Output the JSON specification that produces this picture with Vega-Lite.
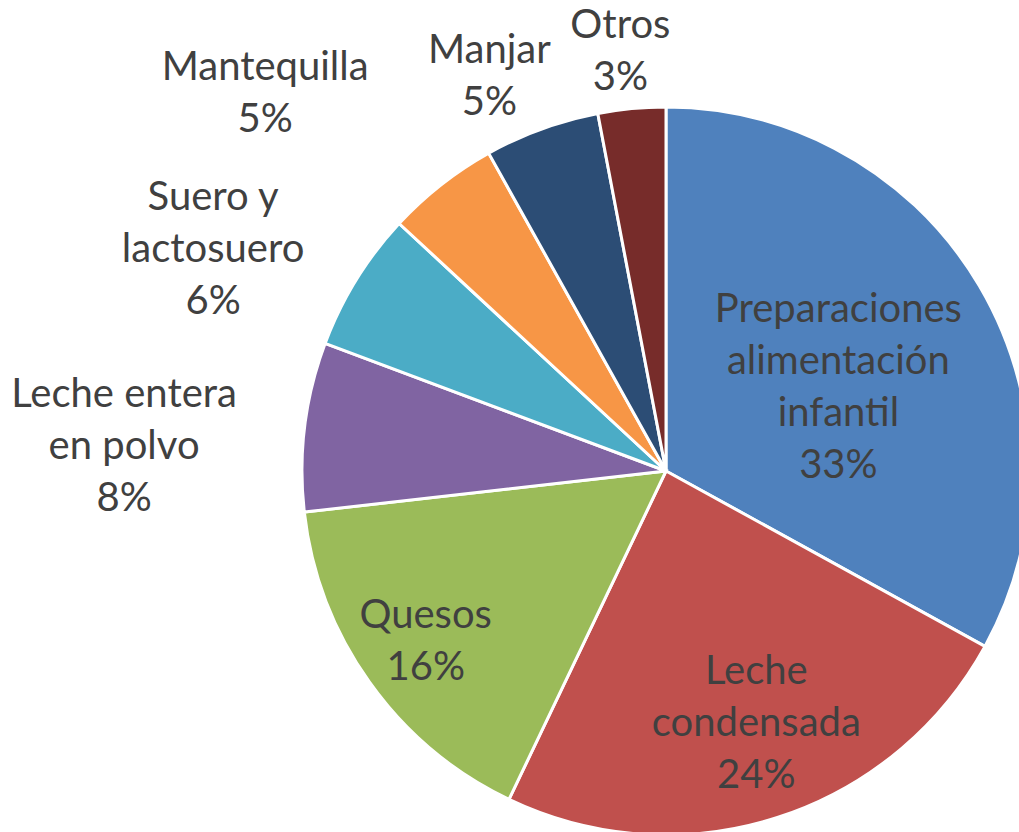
{
  "$schema": "https://vega.github.io/schema/vega-lite/v6.json",
  "width": 1019,
  "height": 832,
  "autosize": {"type": "none"},
  "padding": 0,
  "background": "white",
  "config": {"view": {"stroke": null}},
  "data": {
    "values": [
      {"cat": "Preparaciones alimentación infantil", "label": "Preparaciones\nalimentación\ninfantil\n33%", "value": 33.0, "orden": 1},
      {"cat": "Leche condensada", "label": "Leche\ncondensada\n24%", "value": 24.1, "orden": 2},
      {"cat": "Quesos", "label": "Quesos\n16%", "value": 16.1, "orden": 3},
      {"cat": "Leche entera en polvo", "label": "Leche entera\nen polvo\n8%", "value": 7.5, "orden": 4},
      {"cat": "Suero y lactosuero", "label": "Suero y\nlactosuero\n6%", "value": 6.2, "orden": 5},
      {"cat": "Mantequilla", "label": "Mantequilla\n5%", "value": 5.0, "orden": 6},
      {"cat": "Manjar", "label": "Manjar\n5%", "value": 5.1, "orden": 7},
      {"cat": "Otros", "label": "Otros\n3%", "value": 3.0, "orden": 8}
    ]
  },
  "encoding": {
    "theta": {"field": "value", "type": "quantitative", "stack": true, "scale": {"domain": [0, 100]}},
    "order": {"field": "orden", "type": "quantitative", "sort": "ascending"}
  },
  "layer": [
    {
      "mark": {"type": "arc", "x": 666, "y": 471, "radius": 364, "stroke": "white", "strokeWidth": 3},
      "encoding": {
        "color": {
          "field": "cat", "type": "nominal", "legend": null,
          "scale": {
            "domain": ["Preparaciones alimentación infantil", "Leche condensada", "Quesos", "Leche entera en polvo", "Suero y lactosuero", "Mantequilla", "Manjar", "Otros"],
            "range": ["#4F81BD", "#C0504D", "#9BBB59", "#8064A2", "#4BACC6", "#F79646", "#2C4D75", "#772C2A"]
          }
        }
      }
    },
    {
      "mark": {"type": "text", "x": 666, "y": 471, "radius": 191, "dx": 8, "dy": -64, "font": "Lato", "fontSize": 40, "lineHeight": 52, "lineBreak": "\n", "color": "#404040", "align": "center", "baseline": "middle"},
      "encoding": {"text": {"condition": {"test": "datum.orden === 1", "field": "label"}, "value": ""}}
    },
    {
      "mark": {"type": "text", "x": 666, "y": 471, "radius": 269, "dx": 8, "dy": -55, "font": "Lato", "fontSize": 40, "lineHeight": 52, "lineBreak": "\n", "color": "#404040", "align": "center", "baseline": "middle"},
      "encoding": {"text": {"condition": {"test": "datum.orden === 2", "field": "label"}, "value": ""}}
    },
    {
      "mark": {"type": "text", "x": 666, "y": 471, "radius": 295, "dy": -26, "font": "Lato", "fontSize": 40, "lineHeight": 52, "lineBreak": "\n", "color": "#404040", "align": "center", "baseline": "middle"},
      "encoding": {"text": {"condition": {"test": "datum.orden === 3", "field": "label"}, "value": ""}}
    },
    {
      "mark": {"type": "text", "x": 666, "y": 471, "radius": 542, "dx": -4, "dy": -10, "font": "Lato", "fontSize": 40, "lineHeight": 52, "lineBreak": "\n", "color": "#404040", "align": "center", "baseline": "middle"},
      "encoding": {"text": {"condition": {"test": "datum.orden === 4", "field": "label"}, "value": ""}}
    },
    {
      "mark": {"type": "text", "x": 666, "y": 471, "radius": 504, "dx": -24, "dy": -8, "font": "Lato", "fontSize": 40, "lineHeight": 52, "lineBreak": "\n", "color": "#404040", "align": "center", "baseline": "middle"},
      "encoding": {"text": {"condition": {"test": "datum.orden === 5", "field": "label"}, "value": ""}}
    },
    {
      "mark": {"type": "text", "x": 666, "y": 471, "radius": 550, "dx": -61, "dy": 29, "font": "Lato", "fontSize": 40, "lineHeight": 52, "lineBreak": "\n", "color": "#404040", "align": "center", "baseline": "middle"},
      "encoding": {"text": {"condition": {"test": "datum.orden === 6", "field": "label"}, "value": ""}}
    },
    {
      "mark": {"type": "text", "x": 666, "y": 471, "radius": 432, "dx": -29, "dy": -14, "font": "Lato", "fontSize": 40, "lineHeight": 52, "lineBreak": "\n", "color": "#404040", "align": "center", "baseline": "middle"},
      "encoding": {"text": {"condition": {"test": "datum.orden === 7", "field": "label"}, "value": ""}}
    },
    {
      "mark": {"type": "text", "x": 666, "y": 471, "radius": 421, "dx": -6, "dy": -26, "font": "Lato", "fontSize": 40, "lineHeight": 52, "lineBreak": "\n", "color": "#404040", "align": "center", "baseline": "middle"},
      "encoding": {"text": {"condition": {"test": "datum.orden === 8", "field": "label"}, "value": ""}}
    }
  ]
}
